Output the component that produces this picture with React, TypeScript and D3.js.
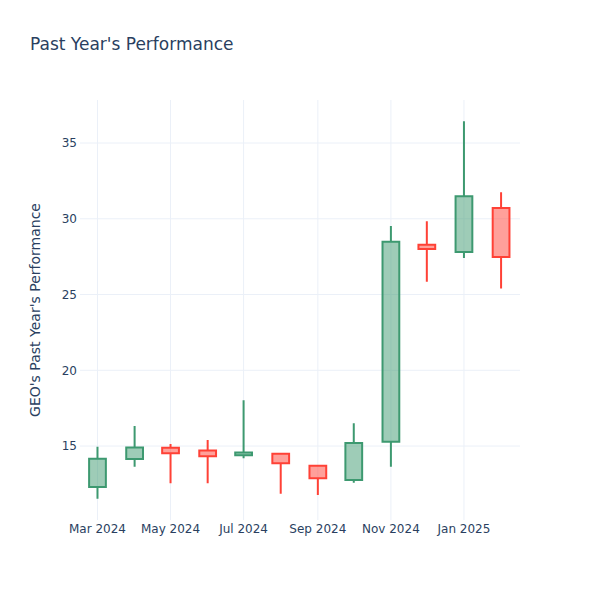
import React from "react";
import * as d3 from "d3";

const dates = [
  "2024-03-01", "2024-04-01", "2024-05-01", "2024-06-01", "2024-07-01", "2024-08-01",
  "2024-09-01", "2024-10-01", "2024-11-01", "2024-12-01", "2025-01-01", "2025-02-01",
];
const openVals = [12.3, 14.14, 14.89, 14.71, 14.39, 14.49, 13.7, 12.76, 15.28, 28.28, 27.8, 30.72];
const highVals = [14.95, 16.32, 15.13, 15.4, 18.03, 14.5, 13.71, 16.5, 29.53, 29.84, 36.44, 31.75];
const lowVals = [11.52, 13.64, 12.54, 12.54, 14.19, 11.85, 11.77, 12.58, 13.64, 25.84, 27.42, 25.4];
const closeVals = [14.16, 14.91, 14.52, 14.32, 14.58, 13.86, 12.87, 15.2, 28.48, 28.0, 31.49, 27.47];

const xTickDates = ["2024-03-01", "2024-05-01", "2024-07-01", "2024-09-01", "2024-11-01", "2025-01-01"];
const yTickVals = [15, 20, 25, 30, 35];

const W = 600, H = 600;
const M = { l: 80, r: 80, t: 100, b: 80 };
const FONT = "'DejaVu Sans', 'Open Sans', Verdana, sans-serif";
const INC = "#3D9970";
const DEC = "#FF4136";
const DAY = 86400000;

export default function App() {
  const parse = (s: string) => new Date(s + "T00:00:00Z");
  const x = d3
    .scaleUtc()
    .domain([new Date(parse("2024-03-01").getTime() - 14.6 * DAY), new Date(parse("2025-01-01").getTime() + 46.8 * DAY)])
    .range([M.l, W - M.r]);
  const y = d3.scaleLinear().domain([10.12, 37.84]).range([H - M.b, M.t]);
  const fmt = d3.utcFormat("%b %Y");
  const halfW = (x(new Date(parse("2024-03-01").getTime() + 14 * DAY)) - x(parse("2024-03-01"))) / 2;

  return (
    <svg width={W} height={H} style={{ display: "block", position: "absolute", left: 0, top: 0, background: "#fff" }} fontFamily={FONT}>
      <rect x={0} y={0} width={W} height={H} fill="#fff" />
      {xTickDates.map((d) => (
        <line key={"xg" + d} x1={x(parse(d))} x2={x(parse(d))} y1={M.t} y2={H - M.b} stroke="#EBF0F8" strokeWidth={1} />
      ))}
      {yTickVals.map((v) => (
        <line key={"yg" + v} x1={M.l} x2={W - M.r} y1={y(v)} y2={y(v)} stroke="#EBF0F8" strokeWidth={1} />
      ))}
      {dates.map((d, i) => {
        const cx = x(parse(d));
        const o = openVals[i], c = closeVals[i], h = highVals[i], l = lowVals[i];
        const up = c >= o;
        const col = up ? INC : DEC;
        const top = y(Math.max(o, c));
        const bot = y(Math.min(o, c));
        const path =
          `M${cx - halfW},${bot}H${cx + halfW}V${top}H${cx - halfW}Z` +
          `M${cx},${bot}V${y(l)}M${cx},${top}V${y(h)}`;
        return (
          <path key={d} d={path} fill={col} fillOpacity={0.5} stroke={col} strokeWidth={2} />
        );
      })}
      {yTickVals.map((v) => (
        <text key={"yt" + v} x={M.l - 3} y={y(v)} dy="0.35em" textAnchor="end" fontSize={12} fill="#2a3f5f">
          {v}
        </text>
      ))}
      {xTickDates.map((d) => (
        <text key={"xt" + d} x={x(parse(d))} y={H - M.b + 13} textAnchor="middle" fontSize={12} fill="#2a3f5f">
          {fmt(parse(d))}
        </text>
      ))}
      <text x={30} y={50} fontSize={17} fill="#2a3f5f">Past Year's Performance</text>
      <text
        transform={`translate(${40},${(M.t + H - M.b) / 2}) rotate(-90)`}
        textAnchor="middle"
        fontSize={14}
        fill="#2a3f5f"
      >
        GEO's Past Year's Performance
      </text>
    </svg>
  );
}
